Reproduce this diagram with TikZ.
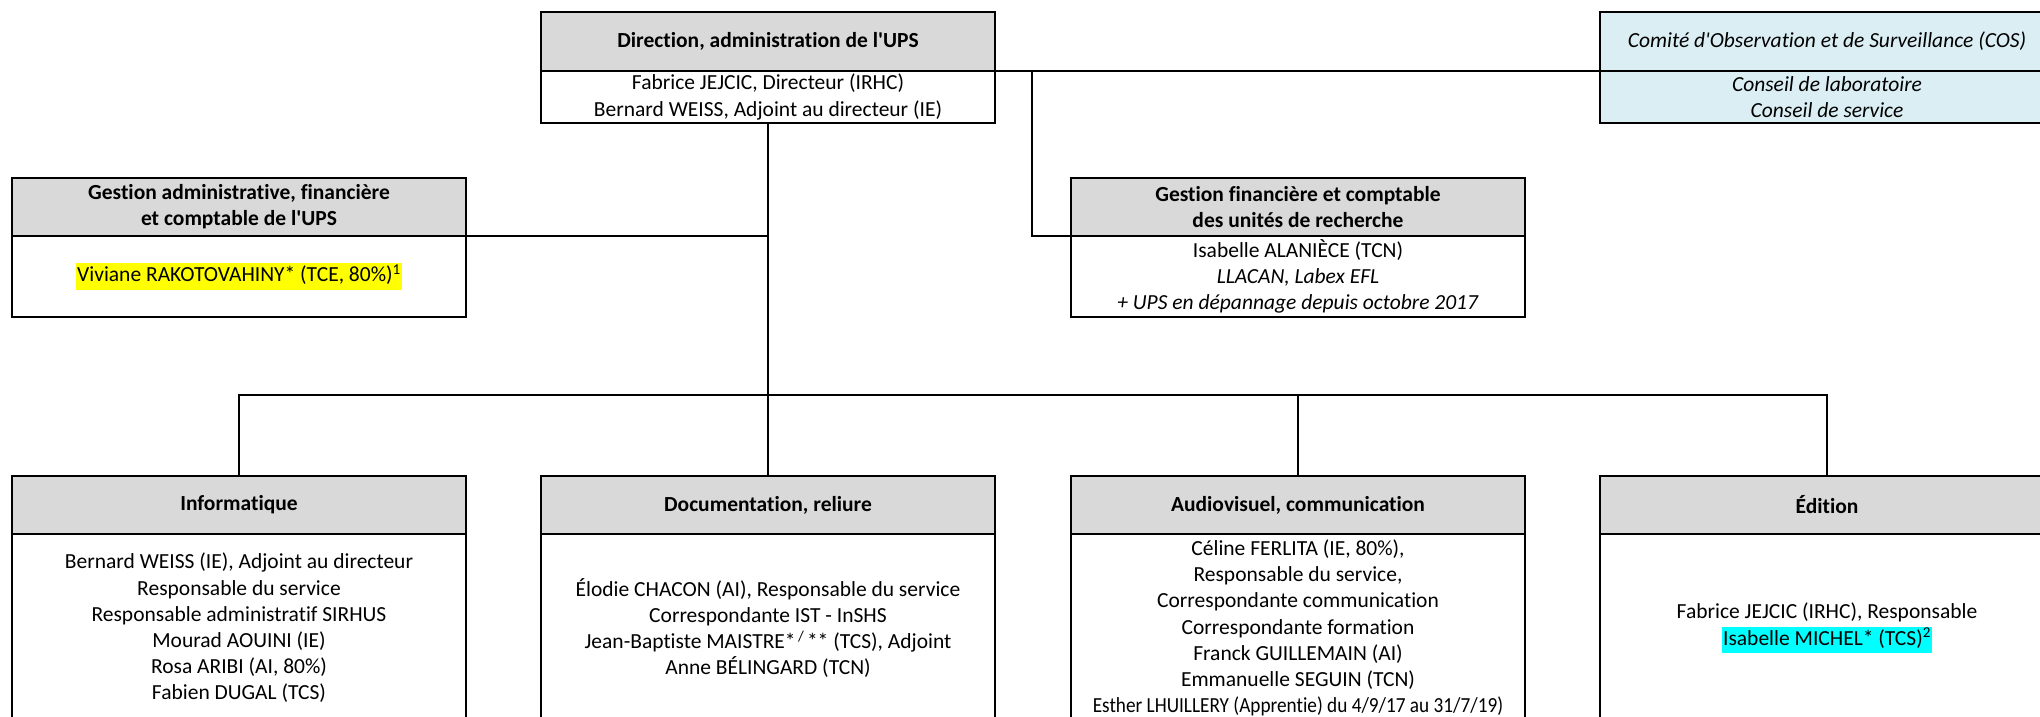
\documentclass[tikz,border=0pt]{standalone}
\usepackage{fontspec}
\usepackage{graphicx}
\setmainfont{Carlito}[Ligatures={TeXOff,NoCommon}]
\usetikzlibrary{calc}
\definecolor{hdrgray}{HTML}{D9D9D9}
\definecolor{cosblue}{HTML}{DAEEF3}
\definecolor{hlyellow}{HTML}{FFFF00}
\definecolor{hlcyan}{HTML}{00FFFF}
\newcommand\bodyfont{\fontsize{21.5pt}{26.2pt}\selectfont}
\newcommand\hlbox[2]{{\setlength{\fboxsep}{0pt}\colorbox{#1}{\strut\kern1pt #2\kern1pt}}}
\tikzset{
  orgbase/.style={draw=black, line width=2pt, inner sep=0pt, outer sep=0pt, align=center, minimum width=454pt, text=black},
  hdr/.style={orgbase, fill=hdrgray, font=\bodyfont\bfseries, anchor=north},
  bdy/.style={orgbase, fill=white, font=\bodyfont, anchor=north},
  cosbox/.style={orgbase, fill=cosblue, font=\bodyfont\itshape, anchor=north},
  conn/.style={draw=black, line width=2pt},
}
\begin{document}
\begin{tikzpicture}[x=1pt,y=-1pt]
\useasboundingbox (0,0) rectangle (2040,716);
\clip (0,0) rectangle (2040,716);
\fill[white] (0,0) rectangle (2040,716);
% top row
\node[hdr, minimum height=59pt] (dirH) at (768,12) {Direction, administration de l'UPS};
\node[bdy, minimum height=52pt] (dirB) at (dirH.south) {Fabrice JEJCIC, Directeur (IRHC)\\Bernard WEISS, Adjoint au directeur (IE)};
\node[cosbox, minimum height=59pt] (cosH) at (1827,12) {Comité d'Observation et de Surveillance (COS)};
\node[cosbox, minimum height=52pt] (cosB) at (cosH.south) {Conseil de laboratoire\\Conseil de service};
% second row
\node[hdr, minimum height=58pt] (gaH) at (239,178) {Gestion administrative, financière\\et comptable de l'UPS};
\node[bdy, minimum height=81pt] (gaB) at (gaH.south) {\hlbox{hlyellow}{Viviane RAKOTOVAHINY* (TCE, 80\%)\textsuperscript{1}}};
\node[hdr, minimum height=58pt] (gfH) at (1298,178) {Gestion financière et comptable\\des unités de recherche};
\node[bdy, minimum height=81pt] (gfB) at (gfH.south) {Isabelle ALANIÈCE (TCN)\\\textit{LLACAN, Labex EFL}\\\textit{+ UPS en dépannage depuis octobre 2017}};
% bottom row
\node[hdr, minimum height=58pt] (infH) at (239,476) {Informatique};
\node[bdy, minimum height=188pt] (infB) at (infH.south) {Bernard WEISS (IE), Adjoint au directeur\\Responsable du service\\Responsable administratif SIRHUS\\Mourad AOUINI (IE)\\Rosa ARIBI (AI, 80\%)\\Fabien DUGAL (TCS)};
\node[hdr, minimum height=58pt] (docH) at (768,476) {Documentation, reliure};
\node[bdy, minimum height=188pt] (docB) at (docH.south) {Élodie CHACON (AI), Responsable du service\\Correspondante IST - InSHS\\Jean-Baptiste MAISTRE*\textsuperscript{\,/\,}** (TCS), Adjoint\\Anne BÉLINGARD (TCN)};
\node[hdr, minimum height=58pt] (avH) at (1298,476) {Audiovisuel, communication};
\node[bdy, minimum height=188pt] (avB) at (avH.south) {Céline FERLITA (IE, 80\%),\\Responsable du service,\\Correspondante communication\\Correspondante formation\\Franck GUILLEMAIN (AI)\\Emmanuelle SEGUIN (TCN)\\\scalebox{0.895}[1]{Esther LHUILLERY (Apprentie) du 4/9/17 au 31/7/19)}};
\node[hdr, minimum height=58pt] (edH) at (1827,476) {Édition};
\node[bdy, minimum height=188pt] (edB) at (edH.south) {Fabrice JEJCIC (IRHC), Responsable\\\hlbox{hlcyan}{Isabelle MICHEL* (TCS)\textsuperscript{2}}};
% connectors
\coordinate (j1) at (1032,71);
\coordinate (bus) at (768,395);
\draw[conn] (dirH.south east) -- (cosH.south west);
\draw[conn] (j1) |- (gfH.south west);
\draw[conn] (dirB.south) -- (docH.north);
\draw[conn] (gaH.south east) -- (gaH.south east -| dirB.south);
\draw[conn] (infH.north) |- (bus) -| (edH.north);
\draw[conn] (avH.north) -- (avH.north |- bus);
\end{tikzpicture}
\end{document}
